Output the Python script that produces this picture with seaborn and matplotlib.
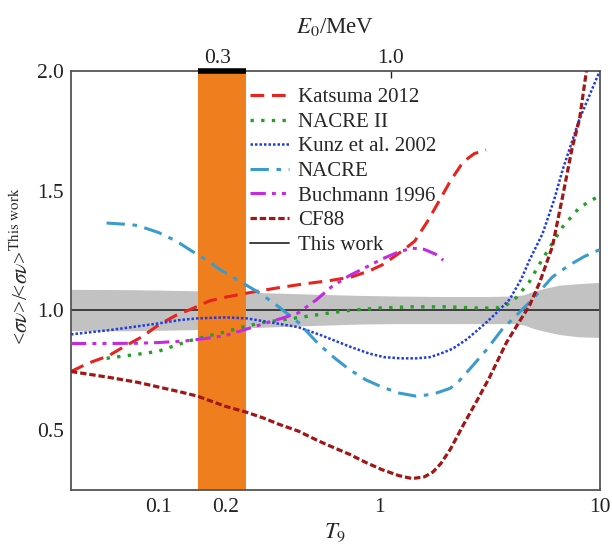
import numpy as np
import seaborn as sns
import matplotlib
matplotlib.use('Agg')
import matplotlib.pyplot as plt

# ratios <sv>/<sv>_this_work, vs T9
katsuma_t9 = [0.04, 0.048, 0.059, 0.07, 0.084, 0.1, 0.12, 0.14, 0.17, 0.2, 0.26, 0.35, 0.45, 0.6,
              0.75, 0.9, 1.03, 1.15, 1.3, 1.45, 1.65, 1.85, 2.1, 2.4, 2.7, 3.05]
katsuma = [0.745, 0.78, 0.81, 0.85, 0.89, 0.94, 0.98, 1.005, 1.04, 1.055, 1.075, 1.095, 1.11, 1.125,
           1.14, 1.165, 1.19, 1.22, 1.255, 1.29, 1.37, 1.45, 1.54, 1.62, 1.655, 1.67]

nacre2_t9 = [0.058, 0.07, 0.085, 0.1, 0.12, 0.14, 0.17, 0.2, 0.25, 0.3, 0.43, 0.6, 0.73, 1.0, 1.4,
             2.0, 2.8, 3.4, 3.8, 4.2, 4.8, 5.3, 5.9, 6.8, 8.1, 10.0]
nacre2 = [0.80, 0.81, 0.82, 0.83, 0.855, 0.875, 0.895, 0.91, 0.935, 0.95, 0.97, 0.99, 1.0, 1.01, 1.015,
          1.015, 1.01, 1.01, 1.025, 1.055, 1.12, 1.19, 1.26, 1.35, 1.43, 1.48]

kunz_t9 = [0.04, 0.05, 0.06, 0.075, 0.1, 0.125, 0.15, 0.2, 0.25, 0.3, 0.43, 0.55, 0.73, 0.9, 1.05,
           1.25, 1.47, 1.7, 1.9, 2.15, 2.5, 2.85, 3.06, 3.4, 3.9, 4.4, 4.8, 5.5, 6.2, 6.8, 8.1, 10.0]
kunz = [0.90, 0.91, 0.918, 0.93, 0.946, 0.96, 0.967, 0.971, 0.967, 0.955, 0.93, 0.895, 0.85, 0.82, 0.805,
        0.80, 0.80, 0.805, 0.82, 0.84, 0.88, 0.925, 0.95, 0.99, 1.046, 1.13, 1.21, 1.32, 1.46, 1.59,
        1.80, 2.0]

nacre_t9 = [0.058, 0.07, 0.08, 0.1, 0.12, 0.14, 0.165, 0.19, 0.22, 0.25, 0.29, 0.35, 0.43, 0.53, 0.63,
            0.73, 0.87, 1.03, 1.23, 1.47, 1.75, 2.1, 2.3, 2.6, 3.06, 3.6, 4.3, 5.0, 6.1, 7.3, 8.5, 10.0]
nacre = [1.365, 1.36, 1.355, 1.325, 1.29, 1.25, 1.21, 1.17, 1.135, 1.105, 1.07, 1.015, 0.95, 0.86, 0.80,
         0.754, 0.71, 0.68, 0.655, 0.642, 0.65, 0.675, 0.705, 0.76, 0.835, 0.92, 0.99, 1.05, 1.14, 1.19,
         1.225, 1.254]

buch_t9 = [0.04, 0.06, 0.08, 0.1, 0.13, 0.16, 0.2, 0.25, 0.3, 0.37, 0.43, 0.52, 0.61, 0.73, 0.87,
           1.03, 1.23, 1.41, 1.6, 1.8, 1.95]
buch = [0.862, 0.862, 0.863, 0.866, 0.872, 0.882, 0.895, 0.922, 0.945, 0.97, 0.99, 1.045, 1.10, 1.145,
        1.18, 1.215, 1.245, 1.26, 1.255, 1.235, 1.21]

cf88_t9 = [0.04, 0.06, 0.08, 0.1, 0.125, 0.15, 0.2, 0.25, 0.3, 0.35, 0.43, 0.53, 0.63, 0.73, 0.87,
           1.03, 1.23, 1.41, 1.6, 1.75, 1.9, 2.1, 2.4, 2.8, 3.16, 3.78, 4.47, 4.8, 5.34, 6.1, 6.8, 7.5,
           8.1, 8.7, 9.3]
cf88 = [0.745, 0.72, 0.70, 0.68, 0.66, 0.642, 0.60, 0.575, 0.55, 0.525, 0.496, 0.455, 0.425, 0.40,
        0.365, 0.335, 0.31, 0.298, 0.305, 0.325, 0.36, 0.42, 0.52, 0.63, 0.72, 0.867, 0.975, 1.02, 1.117,
        1.267, 1.48, 1.68, 1.80, 2.0, 2.15]

# uncertainty of this work
band_t9 = [0.04, 0.07, 0.1, 0.15, 0.2, 0.3, 0.5, 0.8, 1.2, 2.0, 3.0, 4.0, 4.5, 5.0, 5.5, 6.5, 8.0, 10.0]
band_hi = [1.088, 1.087, 1.085, 1.082, 1.078, 1.074, 1.068, 1.063, 1.06, 1.058, 1.058, 1.06, 1.065,
           1.08, 1.09, 1.105, 1.112, 1.117]
band_lo = [0.915, 0.915, 0.917, 0.92, 0.925, 0.93, 0.937, 0.943, 0.945, 0.945, 0.945, 0.945, 0.94,
           0.925, 0.915, 0.90, 0.89, 0.887]

gamow_window = [0.15, 0.25]   # T9 range of orange band
x_ticks = [0.1, 0.2, 1, 10]
x_ticklabels = ['0.1', '0.2', '1', '10']
y_ticks = [0.5, 1.0, 1.5, 2.0]
e0_ticks = [0.3, 1.0]

series = [
    ("Katsuma 2012", katsuma_t9, katsuma, '#e8231d', (0, (4.5, 2.5)), 2.2),
    ("NACRE II", nacre2_t9, nacre2, '#24a024', (0, (1, 2.2)), 2.4),
    ("Kunz et al. 2002", kunz_t9, kunz, '#1f3be6', (0, (1, 0.8)), 1.8),
    ("NACRE", nacre_t9, nacre, '#3a9ccc', (0, (6, 2.5, 1.5, 2.5)), 2.2),
    ("Buchmann 1996", buch_t9, buch, '#c52ae0', (0, (5, 2, 1.3, 2, 1.3, 2)), 2.2),
    ("CF88", cf88_t9, cf88, '#a31616', (0, (2, 0.9)), 2.3),
]

sns.set_style('white')
plt.rcParams['font.family'] = ['Liberation Serif', 'DejaVu Serif']
plt.rcParams['mathtext.fontset'] = 'stix'

fig = plt.figure(figsize=(6.12, 5.5), dpi=100)
ax = fig.add_axes([0.116, 0.109, 0.864, 0.762])

ax.fill_between(band_t9, band_lo, band_hi, color='#c2c2c2', lw=0, zorder=1)
this_work = ax.axhline(1.0, color='#333333', lw=1.3, zorder=1.5)
ax.axvspan(gamow_window[0], gamow_window[1], color='#ef7f1e', lw=0, zorder=2)

handles = []
for name, t9, vals, col, ls, lw in series:
    sns.lineplot(x=t9, y=vals, ax=ax, color=col, linestyle=ls, lw=lw,
                 estimator=None, sort=False, zorder=3)
    handles.append(ax.lines[-1])
handles.append(this_work)
labels = [s[0] for s in series] + ["This work"]

ax.set_xscale('log')
ax.set_xlim(0.04, 10)
ax.set_ylim(0.25, 2.0)
ax.set_xticks(x_ticks)
ax.set_xticklabels(x_ticklabels)
ax.xaxis.set_minor_locator(matplotlib.ticker.NullLocator())
ax.set_yticks(y_ticks)
ax.set_yticklabels(['%.1f' % v for v in y_ticks])
ax.tick_params(direction='in', length=5, width=1, labelsize=15.5, colors='#222222')
ax.tick_params(axis='x', pad=6)
ax.tick_params(axis='y', pad=5)

# black bar on top of the gamow window
ax.plot(gamow_window, [2.0, 2.0], color='black', lw=4, solid_capstyle='butt', clip_on=False, zorder=6)

for sp in ax.spines.values():
    sp.set_color('#555555')
    sp.set_linewidth(1.3)

sec = ax.secondary_xaxis('top', functions=(lambda t: 0.922 * np.power(np.clip(t, 1e-9, None), 2 / 3),
                                           lambda e: np.power(np.clip(e, 1e-9, None) / 0.922, 1.5)))
sec.set_xticks(e0_ticks)
sec.set_xticklabels(['0.3', '1.0'])
sec.xaxis.set_minor_locator(matplotlib.ticker.NullLocator())
sec.tick_params(direction='in', length=5, width=1, labelsize=15.5, colors='#222222', pad=2)
sec.spines['top'].set_visible(False)
sec.set_xlabel(r'$E_0$/MeV', fontsize=16.5, labelpad=12)

ax.set_xlabel(r'$T_9$', fontsize=16.5, labelpad=3)
ax.set_ylabel(r'<$\sigma\nu$>/<$\sigma\nu$>$^{\rm This\ work}$', fontsize=15.5)
ax.yaxis.set_label_coords(-0.072, 0.535)

ax.legend(handles, labels, loc='upper left', bbox_to_anchor=(0.338, 0.96), frameon=False,
          fontsize=15, handlelength=1.9, handletextpad=0.4, labelspacing=0.24,
          borderaxespad=0, borderpad=0)

fig.savefig('out.png', dpi=100)
